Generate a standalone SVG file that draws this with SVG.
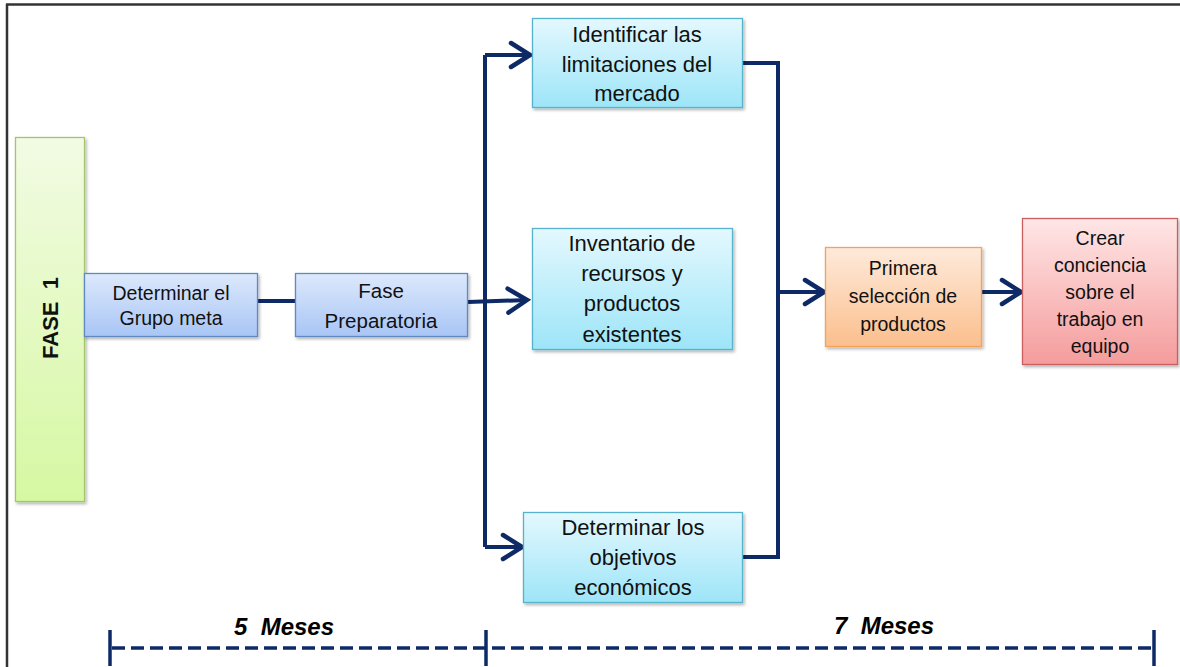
<svg xmlns="http://www.w3.org/2000/svg" width="1180" height="667" viewBox="0 0 1180 667">
  <defs>
    <linearGradient id="gGreen" x1="0" y1="0" x2="0" y2="1">
      <stop offset="0" stop-color="#f2fbe4"/>
      <stop offset="1" stop-color="#d6f8a2"/>
    </linearGradient>
    <linearGradient id="gBlue" x1="0" y1="0" x2="0" y2="1">
      <stop offset="0" stop-color="#dde9fc"/>
      <stop offset="1" stop-color="#a8c5f5"/>
    </linearGradient>
    <linearGradient id="gCyan" x1="0" y1="0" x2="0" y2="1">
      <stop offset="0" stop-color="#e4f8fe"/>
      <stop offset="1" stop-color="#9de5f8"/>
    </linearGradient>
    <linearGradient id="gOrange" x1="0" y1="0" x2="0" y2="1">
      <stop offset="0" stop-color="#feeadb"/>
      <stop offset="1" stop-color="#fbbf8d"/>
    </linearGradient>
    <linearGradient id="gRed" x1="0" y1="0" x2="0" y2="1">
      <stop offset="0" stop-color="#ffe6e6"/>
      <stop offset="1" stop-color="#f59c9c"/>
    </linearGradient>
    <filter id="shadow" x="-10%" y="-10%" width="130%" height="130%">
      <feDropShadow dx="1.5" dy="2" stdDeviation="1.5" flood-color="#000" flood-opacity="0.3"/>
    </filter>
    <marker id="chev" markerUnits="userSpaceOnUse" viewBox="-24 -16 28 32" refX="0" refY="0" markerWidth="28" markerHeight="32" orient="auto">
      <path d="M-19,-12 L0,0 L-19,12" fill="none" stroke="#0e2a66" stroke-width="4.5" stroke-linecap="round" stroke-linejoin="miter"/>
    </marker>
  </defs>
  <style>
    .frame { stroke: #333; stroke-width: 2.5; fill: none; }
    .conn { stroke: #0e2a66; stroke-width: 4; fill: none; }
    .arrow { marker-end: url(#chev); }
    .tick { stroke: #0e2a66; stroke-width: 3.5; }
    .dash { stroke: #0e2a66; stroke-width: 3.5; stroke-dasharray: 13 6; }
    .box { filter: url(#shadow); stroke-width: 1.3; }
    .t { font-family: "Liberation Sans", Arial, sans-serif; fill: #111; text-anchor: middle; }
    .s20 { font-size: 19.5px; }
    .s22 { font-size: 22px; }
    .s21 { font-size: 20.5px; }
    .b { font-weight: bold; }
    .bi { font-weight: bold; font-style: italic; font-size: 24px; fill: #000; }
  </style>

  <g id="frame">
    <line class="frame" x1="6" y1="4.5" x2="1180" y2="4.5"/>
    <line class="frame" x1="7" y1="4" x2="7" y2="667"/>
  </g>

  <g id="connectors">
    <line class="conn" x1="258" y1="301" x2="295" y2="301"/>
    <path class="conn arrow" d="M468,302 L527,300"/>
    <path class="conn" d="M485,55 L485,547"/>
    <path class="conn arrow" d="M485,55 L530,55"/>
    <path class="conn arrow" d="M485,547 L522,547"/>
    <path class="conn" d="M743,63 L778,63 L778,557 L743,557"/>
    <path class="conn arrow" d="M778,292 L824,292"/>
    <path class="conn arrow" d="M982,292 L1021,292"/>
  </g>

  <g id="fase1">
    <rect class="box" x="15.5" y="137.5" width="69" height="364" fill="url(#gGreen)" stroke="#a3c66a"/>
    <text class="t b" font-size="22" xml:space="preserve" transform="translate(58,318) rotate(-90)">FASE  1</text>
  </g>

  <g id="grupo-meta">
    <rect class="box" x="84.5" y="273.5" width="173" height="63" fill="url(#gBlue)" stroke="#5f88c4"/>
    <text class="t s20" x="171" y="300">Determinar el</text>
    <text class="t s20" x="171" y="325">Grupo meta</text>
  </g>

  <g id="fase-preparatoria">
    <rect class="box" x="295.5" y="273.5" width="172" height="63" fill="url(#gBlue)" stroke="#5f88c4"/>
    <text class="t s21" x="381" y="298">Fase</text>
    <text class="t s21" x="381" y="328">Preparatoria</text>
  </g>

  <g id="identificar">
    <rect class="box" x="532.5" y="18.5" width="210" height="89" fill="url(#gCyan)" stroke="#55b4cc"/>
    <text class="t s22" x="637" y="42">Identificar las</text>
    <text class="t s22" x="637" y="72">limitaciones del</text>
    <text class="t s22" x="637" y="101">mercado</text>
  </g>

  <g id="inventario">
    <rect class="box" x="532.5" y="228.5" width="200" height="121" fill="url(#gCyan)" stroke="#55b4cc"/>
    <text class="t s22" x="632" y="251">Inventario de</text>
    <text class="t s22" x="632" y="281">recursos y</text>
    <text class="t s22" x="632" y="311">productos</text>
    <text class="t s22" x="632" y="342">existentes</text>
  </g>

  <g id="objetivos">
    <rect class="box" x="523.5" y="512.5" width="219" height="90" fill="url(#gCyan)" stroke="#55b4cc"/>
    <text class="t s22" x="633" y="535">Determinar los</text>
    <text class="t s22" x="633" y="565">objetivos</text>
    <text class="t s22" x="633" y="595">económicos</text>
  </g>

  <g id="primera-seleccion">
    <rect class="box" x="825.5" y="247.5" width="156" height="99" fill="url(#gOrange)" stroke="#f4a15a"/>
    <text class="t s20" x="903" y="275">Primera</text>
    <text class="t s20" x="903" y="303">selección de</text>
    <text class="t s20" x="903" y="331">productos</text>
  </g>

  <g id="crear-conciencia">
    <rect class="box" x="1022.5" y="218.5" width="155" height="146" fill="url(#gRed)" stroke="#c9615e"/>
    <text class="t s20" x="1100" y="245">Crear</text>
    <text class="t s20" x="1100" y="272">conciencia</text>
    <text class="t s20" x="1100" y="299">sobre el</text>
    <text class="t s20" x="1100" y="326">trabajo en</text>
    <text class="t s20" x="1100" y="353">equipo</text>
  </g>

  <g id="timeline">
    <line class="dash" x1="112" y1="648" x2="1153" y2="648"/>
    <line class="tick" x1="110" y1="630" x2="110" y2="666"/>
    <line class="tick" x1="486" y1="630" x2="486" y2="666"/>
    <line class="tick" x1="1154" y1="630" x2="1154" y2="666"/>
    <text class="t bi" x="284" y="635" xml:space="preserve">5  Meses</text>
    <text class="t bi" x="884" y="634" xml:space="preserve">7  Meses</text>
  </g>
</svg>
